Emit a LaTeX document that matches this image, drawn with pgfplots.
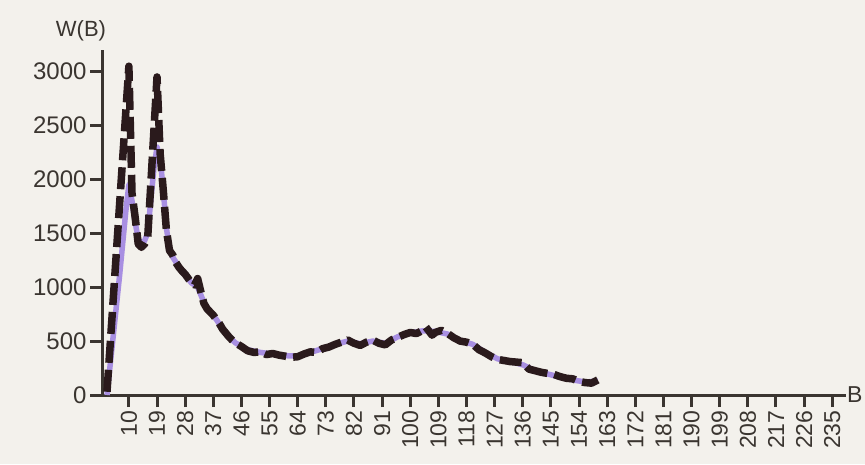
\documentclass[border=0pt]{standalone}
\usepackage{fontspec}
\setmainfont{Liberation Sans}
\usepackage{pgfplots}
\pgfplotsset{compat=1.18}
\definecolor{ink}{HTML}{3A3530}
\definecolor{blk}{HTML}{2A1A1C}
\definecolor{purp}{HTML}{A88FE2}
\definecolor{paper}{HTML}{F3F1EC}
\begin{document}
\begin{tikzpicture}[x=1pt,y=1pt]
\fill[paper] (0,0) rectangle (865,464);
\useasboundingbox (0,0) rectangle (865,464);
\begin{axis}[
  at={(102pt,69pt)}, anchor=south west,
  scale only axis, width=744pt, height=345pt,
  xmin=1.4, xmax=239.4, ymin=0, ymax=3200,
  axis x line=bottom, axis y line=left,
  axis line style={-, line width=3pt, ink},
  xtick={10,19,...,235}, ytick={0,500,...,3000},
  tick align=outside, major tick length=12pt,
  tick style={line width=3pt, ink},
  /pgf/number format/assume math mode=true,
  xticklabel style={rotate=90, anchor=east, font=\fontsize{23}{23}\selectfont, text=ink},
  yticklabel style={font=\fontsize{24}{24}\selectfont, text=ink, /pgf/number format/1000 sep={}},
  scaled y ticks=false,
  clip=false,
]
\addplot[purp, line width=5.5pt, line join=round] coordinates {
(3,0) (5,550) (7,1100) (9,1700) (10,1950) (11,1800) (12,1600) (13,1450) (14,1400)
(15,1430) (16,1500) (17,1800) (18,2100) (19,2300) (20,2200) (21,1900) (22,1550)
(23,1350) (24,1280) (26,1190) (28,1110) (30,1040) (32,1000) (34,860) (36,770)
(38,700) (40,610) (42,540) (44,485) (48,420) (52,395) (56,380) (60,365) (64,360)
(68,395) (72,430) (76,470) (80,500) (84,475) (88,500) (92,480) (96,540) (100,575)
(104,595) (108,590) (112,565) (116,505) (120,470) (124,395) (128,335) (132,310)
(136,280) (140,225) (144,195) (148,165) (152,140) (156,120) (160,130)
};
\addplot[blk, line width=7.5pt, line join=round, dash pattern=on 22pt off 7pt] coordinates {
(3,30) (10,3050) (11,1870) (12,1650) (13,1400) (14,1370) (15,1400) (16,1450)
(19,2950) (20,2240) (21,1900) (22,1530) (23,1340) (24,1300) (25,1230) (26,1185)
(27,1150) (28,1120) (29,1080) (30,1040) (31,1020) (32,1080) (33,960) (34,850)
(35,800) (36,770) (37,740) (38,700) (39,660) (40,610) (41,575) (42,540) (43,510)
(44,485) (46,450) (48,410) (50,395) (52,400) (54,375) (56,385) (58,370) (60,360)
(62,350) (64,355) (66,380) (68,400) (70,395) (72,430) (74,445) (76,470) (78,490)
(80,510) (82,480) (84,460) (86,490) (88,510) (90,480) (92,465) (94,510) (96,535)
(98,560) (100,580) (102,570) (104,600) (105,630) (107,555) (108,580) (110,600)
(112,570) (114,530) (116,500) (118,490) (120,470) (122,420) (124,390) (126,355)
(128,330) (130,320) (132,310) (134,305) (136,300) (138,240) (140,225) (142,210)
(144,200) (146,190) (148,170) (150,155) (152,150) (154,125) (156,115) (158,110)
(160,140)
};
\node[anchor=west, text=ink, font=\fontsize{23}{23}\selectfont, inner sep=1pt] at (rel axis cs:1,0) {B};
\node[anchor=south, text=ink, font=\fontsize{22}{22}\selectfont, inner sep=0pt] at (rel axis cs:0,1) [xshift=-21pt, yshift=9pt] {W(B)};
\end{axis}
\end{tikzpicture}
\end{document}
